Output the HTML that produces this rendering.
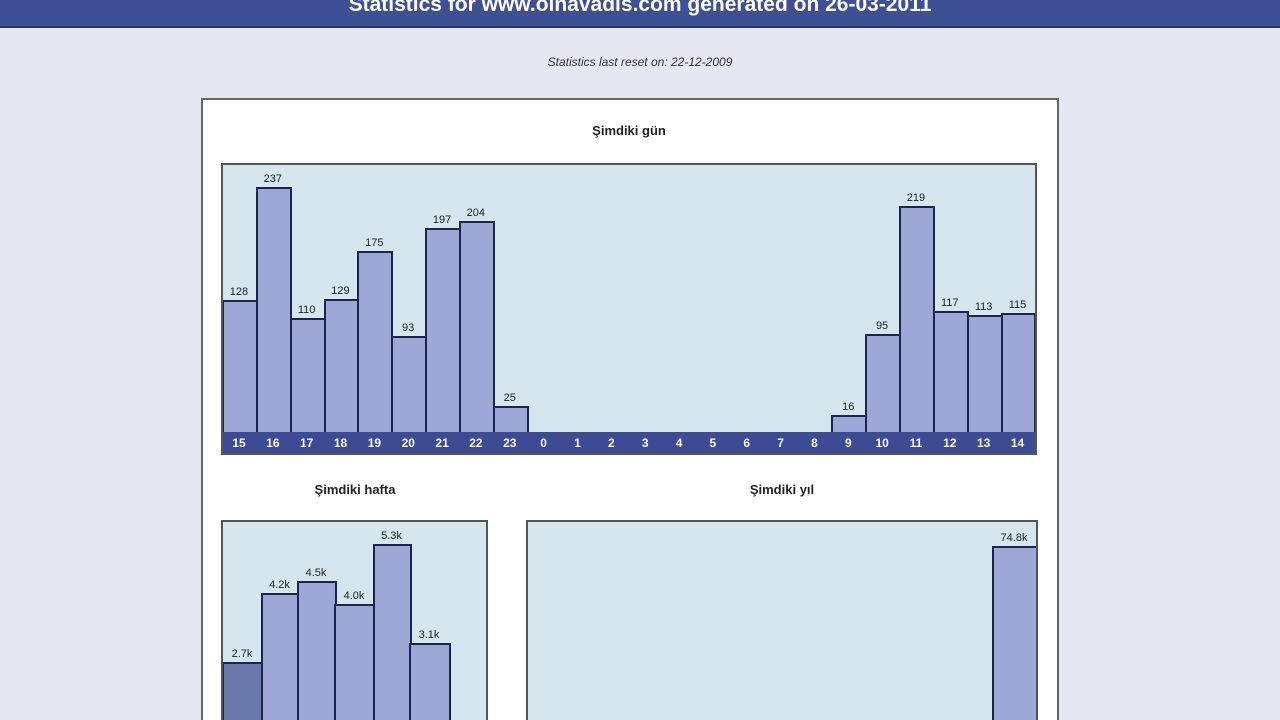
<!DOCTYPE html>
<html><head><meta charset="utf-8"><style>
html,body{margin:0;width:1280px;height:720px;overflow:hidden}
body{background:#e5e8f2;font-family:"Liberation Sans",sans-serif;position:relative}
.hdr{position:absolute;left:0;top:0;width:1280px;height:26px;background:#3f4f94;border-bottom:2px solid #27306a;color:#fff;font-weight:bold;font-size:21px;text-align:center;line-height:10px;overflow:hidden}
.sub{position:absolute;top:55px;width:1280px;text-align:center;font-style:italic;font-size:12px;color:#333}
.panel{position:absolute;left:201px;top:98px;width:854px;height:620px;background:#fff;border:2px solid #666;border-bottom:none}
.t{position:absolute;font-weight:bold;font-size:13px;color:#222;text-align:center}
.box{position:absolute;background:#d6e6ee;border:2px solid #555;overflow:hidden}
.cut{border-bottom:none}
.b{position:absolute;background:#9ea8d6;border:2px solid #1e2250;border-bottom:none;box-sizing:border-box}
.v{position:absolute;font-size:11px;color:#222;text-align:center}
.ax{position:absolute;left:0;background:#3d4a94;color:#fff;font-size:12px;font-weight:bold}
.ax span{position:absolute;width:34px;text-align:center;top:4px}
</style></head><body>
<div class="hdr">Statistics for www.olnavadis.com generated on 26-03-2011</div>
<div class="sub">Statistics last reset on: 22-12-2009</div>
<div class="panel"></div>
<div class="t" style="left:529px;top:123px;width:200px">Şimdiki gün</div>
<div class="box" id="g" style="left:221px;top:163px;width:812px;height:288px"></div>
<div class="t" style="left:255px;top:482px;width:200px">Şimdiki hafta</div>
<div class="t" style="left:682px;top:482px;width:200px">Şimdiki yıl</div>
<div class="box cut" id="h" style="left:221px;top:520px;width:263px;height:200px"></div>
<div class="box cut" id="y" style="left:526px;top:520px;width:508px;height:200px"></div>
<script>
var g=document.getElementById('g');
var labs=[15,16,17,18,19,20,21,22,23,0,1,2,3,4,5,6,7,8,9,10,11,12,13,14];
var vals=[128,237,110,129,175,93,197,204,25,0,0,0,0,0,0,0,0,0,16,95,219,117,113,115];
var w=33.85,base=267,s=1.034,h='';
var ax='<div class="ax" style="top:'+base+'px;width:812px;height:21px">';
for(var i=0;i<24;i++){var x=i*w-1,hh=vals[i]*s;
 if(vals[i]>0){h+='<div class="b" style="left:'+x+'px;width:'+(w+2)+'px;top:'+(base-hh)+'px;height:'+hh+'px"></div>';
 h+='<div class="v" style="left:'+x+'px;width:'+w+'px;top:'+(base-hh-14)+'px">'+vals[i]+'</div>';}
 ax+='<span style="left:'+x+'px">'+labs[i]+'</span>';}
g.innerHTML=h+ax+'</div>';
var hb=document.getElementById('h'),wk=[[-1,40,140,'2.7k'],[38,37,209,'4.2k'],[74,38,221,'4.5k'],[111,40,198,'4.0k'],[150,37,258,'5.3k'],[186,40,159,'3.1k']];
h='';wk.forEach(function(d,i){var top=280-d[2];
 h+='<div class="b" style="left:'+d[0]+'px;width:'+(d[1]+2)+'px;top:'+top+'px;height:300px;'+(i==0?'background:#6b79ad':'')+'"></div>';
 h+='<div class="v" style="left:'+d[0]+'px;width:'+d[1]+'px;top:'+(top-14)+'px">'+d[3]+'</div>';});
hb.innerHTML=h;
document.getElementById('y').innerHTML='<div class="b" style="left:464px;width:46px;top:24px;height:300px"></div><div class="v" style="left:464px;width:44px;top:10px">74.8k</div>';
</script>
</body></html>
